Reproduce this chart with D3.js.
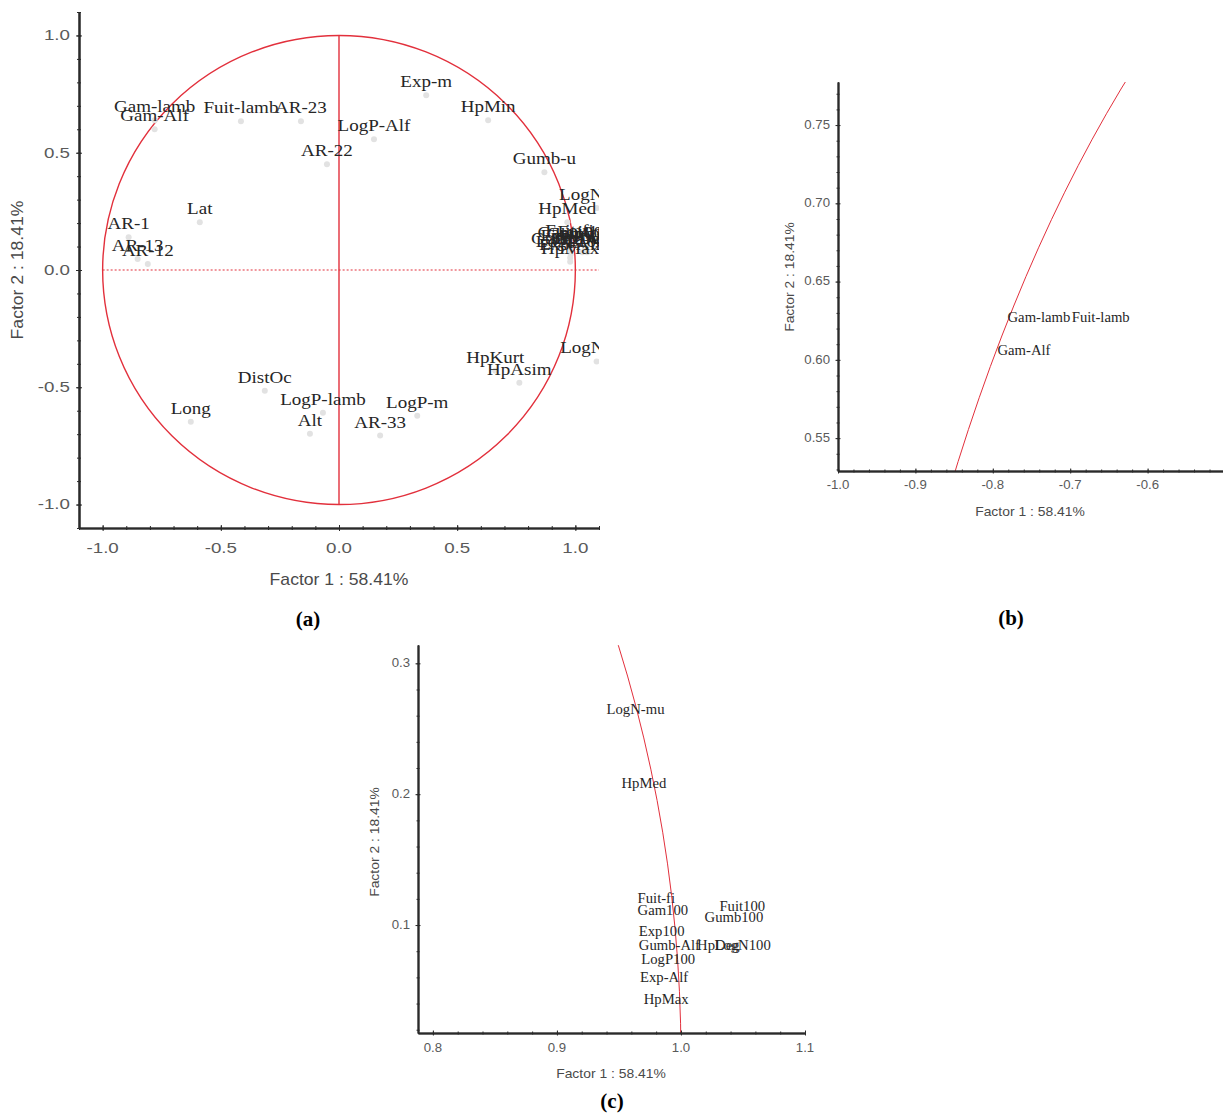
<!DOCTYPE html>
<html><head><meta charset="utf-8">
<script src="https://cdn.jsdelivr.net/npm/d3@7"></script>
<style>body{margin:0;background:#fff} svg{display:block}</style>
</head><body>
<svg id="fig" width="1223" height="1120"></svg>
<script>
// ---------- DATA ----------
// Panel (a): full loading plot
const aNames = ["Exp-m","HpMin","Gumb-u","LogN-mu","HpMed","Fuit-fi","Gam100","Exp100","Gumb-Alf","LogP100","Exp-Alf","HpMax","HpDeg","LogN100","Fuit100","Gumb100","LogP-Alf","AR-22","AR-23","Fuit-lamb","Gam-lamb","Gam-Alf","Lat","AR-1","AR-13","AR-12","DistOc","LogP-lamb","Alt","LogP-m","AR-33","Long","HpKurt","HpAsim","LogN-sig"];
const aF1 = [0.369,0.631,0.869,1.090,0.966,0.975,0.978,0.978,0.980,0.980,0.978,0.978,1.030,1.050,1.050,1.040,0.148,-0.051,-0.161,-0.415,-0.780,-0.780,-0.589,-0.890,-0.852,-0.809,-0.314,-0.068,-0.123,0.331,0.174,-0.627,0.661,0.763,1.090];
const aF2 = [0.745,0.638,0.417,0.264,0.204,0.112,0.103,0.088,0.076,0.066,0.052,0.035,0.076,0.076,0.106,0.098,0.557,0.451,0.634,0.634,0.638,0.600,0.204,0.140,0.047,0.026,-0.515,-0.609,-0.698,-0.621,-0.706,-0.647,-0.430,-0.481,-0.390];
// Panel (b): zoom on the lambda group
const bNames = ["Gam-lamb","Fuit-lamb","Gam-Alf"];
const bF1 = [-0.781,-0.698,-0.794];
const bF2 = [0.627,0.627,0.606];
// Panel (c): zoom on the right cluster
const cNames = ["LogN-mu","HpMed","Fuit-fi","Gam100","Exp100","Gumb-Alf","HpDeg","LogN100","LogP100","Exp-Alf","HpMax","Fuit100","Gumb100"];
const cF1 = [0.940,0.952,0.965,0.965,0.966,0.966,1.013,1.027,0.968,0.967,0.970,1.031,1.019];
const cF2 = [0.265,0.208,0.120,0.111,0.095,0.084,0.084,0.084,0.074,0.060,0.043,0.114,0.106];
// Tick labels
const aMajor = [-1.0,-0.5,0.0,0.5,1.0];
const bXMajor = [-1.0,-0.9,-0.8,-0.7,-0.6];
const bYMajor = [0.55,0.60,0.65,0.70,0.75];
const cXMajor = [0.8,0.9,1.0,1.1];
const cYMajor = [0.1,0.2,0.3];
const xTitle = "Factor 1 : 58.41%";
const yTitle = "Factor 2 : 18.41%";

// ---------- DRAWING ----------
const svg = d3.select('#fig');
const RED = '#e2303c';
const AX = '#2a2a2a';
const SANS = "'Liberation Sans', Arial, sans-serif";
const SERIF = "'Liberation Serif', 'Times New Roman', serif";

function sText(g, x, y, txt, o) {
  return g.append('text')
    .attr('transform', `translate(${x},${y})${o.rotate ? ' rotate(-90)' : ''} scale(${o.sx || 1},1)`)
    .attr('text-anchor', o.anchor || 'middle')
    .attr('dominant-baseline', o.baseline || 'auto')
    .attr('font-family', o.family || SANS)
    .attr('font-size', o.size)
    .attr('font-weight', o.weight || 'normal')
    .attr('fill', o.fill || '#333')
    .text(txt);
}

function drawPanel(p) {
  const x = d3.scaleLinear().domain(p.xDomain).range(p.xRange);
  const y = d3.scaleLinear().domain(p.yDomain).range(p.yRange);
  const g = svg.append('g');
  const clipId = 'clip' + p.id;
  svg.append('clipPath').attr('id', clipId).append('rect')
    .attr('x', p.xRange[0]).attr('y', p.yRange[1])
    .attr('width', p.xRange[1] - p.xRange[0]).attr('height', p.yRange[0] - p.yRange[1]);
  const plot = g.append('g').attr('clip-path', `url(#${clipId})`);

  // unit circle
  plot.append('ellipse')
    .attr('cx', x(0)).attr('cy', y(0))
    .attr('rx', x(1) - x(0)).attr('ry', y(0) - y(1))
    .attr('fill', 'none').attr('stroke', RED).attr('stroke-width', p.circleW);

  if (p.refLines) {
    plot.append('line').attr('x1', x(-1)).attr('x2', x(p.xDomain[1]))
      .attr('y1', y(0)).attr('y2', y(0))
      .attr('stroke', RED).attr('stroke-width', 1.2).attr('stroke-dasharray', '2,2');
    plot.append('line').attr('x1', x(0)).attr('x2', x(0))
      .attr('y1', y(-1)).attr('y2', y(1))
      .attr('stroke', RED).attr('stroke-width', 1.4);
  }

  // axes (ticks crossing the axis line)
  const xMinor = d3.range(Math.round(p.xDomain[0] / p.xStep), Math.round(p.xDomain[1] / p.xStep) + 1).map(i => +(i * p.xStep).toFixed(4)).filter(v => v >= p.xDomain[0] - 1e-9 && v <= p.xDomain[1] + 1e-9);
  const yMinor = d3.range(Math.ceil(p.yDomain[0] / p.yStep), Math.floor(p.yDomain[1] / p.yStep) + 1).map(i => +(i * p.yStep).toFixed(4));
  const xa = g.append('g').attr('transform', `translate(0,${p.yRange[0]})`);
  [p.minorLen, -p.minorLen].forEach(len => {
    xa.append('g').call(d3.axisBottom(x).tickValues(xMinor).tickSize(len).tickSizeOuter(0).tickFormat(''));
  });
  [p.majorLen, -p.majorLen].forEach(len => {
    xa.append('g').call(d3.axisBottom(x).tickValues(p.xMajor).tickSize(len).tickSizeOuter(0).tickFormat(''));
  });
  const ya = g.append('g').attr('transform', `translate(${p.xRange[0]},0)`);
  [p.minorLen, -p.minorLen].forEach(len => {
    ya.append('g').call(d3.axisLeft(y).tickValues(yMinor).tickSize(len).tickSizeOuter(0).tickFormat(''));
  });
  [p.majorLen, -p.majorLen].forEach(len => {
    ya.append('g').call(d3.axisLeft(y).tickValues(p.yMajor).tickSize(len).tickSizeOuter(0).tickFormat(''));
  });
  g.selectAll('.domain').attr('stroke', AX).attr('stroke-width', p.axisW);
  g.selectAll('.tick line').attr('stroke', AX).attr('stroke-width', 1);

  // tick labels
  p.xMajor.forEach(v => sText(g, x(v), p.xLabY, v.toFixed(p.xDec), {size: p.tickSize, sx: p.tickSx, fill: '#5a5a5a', baseline: 'central'}));
  p.yMajor.forEach(v => sText(g, p.yLabX, y(v), v.toFixed(p.yDec), {size: p.tickSize, sx: p.tickSx, fill: '#5a5a5a', baseline: 'central', anchor: 'end'}));

  // axis titles
  sText(g, p.xTitlePos[0], p.xTitlePos[1], xTitle, {size: p.titleSize, sx: p.titleSx, fill: '#4a4a4a', baseline: 'central'});
  sText(g, p.yTitlePos[0], p.yTitlePos[1], yTitle, {size: p.titleSize, sx: p.titleSx, fill: '#4a4a4a', baseline: 'central', rotate: true});

  // points and labels
  const pts = p.names.map((n, i) => ({n, f1: p.f1[i], f2: p.f2[i]}));
  if (p.markers) {
    plot.selectAll('circle.pt').data(pts).join('circle').attr('class', 'pt')
      .attr('cx', d => x(d.f1)).attr('cy', d => y(d.f2)).attr('r', 3)
      .attr('fill', '#e2e2e2');
  }
  pts.forEach(d => {
    sText(plot, x(d.f1), y(d.f2) + p.labDy, d.n, {family: SERIF, size: p.labSize, sx: p.labSx, fill: '#262626', anchor: p.labAnchor});
  });

  // panel letter
  sText(svg, p.letterPos[0], p.letterPos[1], p.letter, {family: SERIF, size: 21, weight: 'bold', fill: '#000', baseline: 'central'});
}

drawPanel({
  id: 'a', names: aNames, f1: aF1, f2: aF2,
  xDomain: [-1.1, 1.1], xRange: [79, 599], yDomain: [-1.1, 1.1], yRange: [528, 12],
  xMajor: aMajor, yMajor: aMajor, xStep: 0.1, yStep: 0.1, xDec: 1, yDec: 1,
  minorLen: 2, majorLen: 3, axisW: 1.6, circleW: 1.4, refLines: true, markers: true,
  xLabY: 548, yLabX: 70, tickSize: 15, tickSx: 1.25,
  xTitlePos: [339, 580], yTitlePos: [18, 270], titleSize: 16, titleSx: 1.1,
  labSize: 17, labSx: 1.12, labDy: -8, labAnchor: 'middle',
  letter: '(a)', letterPos: [308, 619]
});

drawPanel({
  id: 'b', names: bNames, f1: bF1, f2: bF2,
  xDomain: [-1.0, -0.5], xRange: [838, 1225], yDomain: [0.529, 0.7775], yRange: [471, 82],
  xMajor: bXMajor, yMajor: bYMajor, xStep: 0.02, yStep: 0.01, xDec: 1, yDec: 2,
  minorLen: 1.5, majorLen: 2.5, axisW: 1.5, circleW: 1, refLines: false, markers: false,
  xLabY: 485, yLabX: 830, tickSize: 12, tickSx: 1.1,
  xTitlePos: [1030, 512], yTitlePos: [790, 277], titleSize: 13, titleSx: 1.07,
  labSize: 14, labSx: 1.05, labDy: 4.5, labAnchor: 'start',
  letter: '(b)', letterPos: [1011, 618]
});

drawPanel({
  id: 'c', names: cNames, f1: cF1, f2: cF2,
  xDomain: [0.788, 1.1], xRange: [418, 805], yDomain: [0.0175, 0.314], yRange: [1033, 645],
  xMajor: cXMajor, yMajor: cYMajor, xStep: 0.02, yStep: 0.02, xDec: 1, yDec: 1,
  minorLen: 1.5, majorLen: 2.5, axisW: 1.5, circleW: 1, refLines: false, markers: false,
  xLabY: 1048, yLabX: 410, tickSize: 12, tickSx: 1.1,
  xTitlePos: [611, 1074], yTitlePos: [375, 842], titleSize: 13, titleSx: 1.07,
  labSize: 14, labSx: 1.05, labDy: 4.5, labAnchor: 'start',
  letter: '(c)', letterPos: [612, 1101]
});
</script>
</body></html>
